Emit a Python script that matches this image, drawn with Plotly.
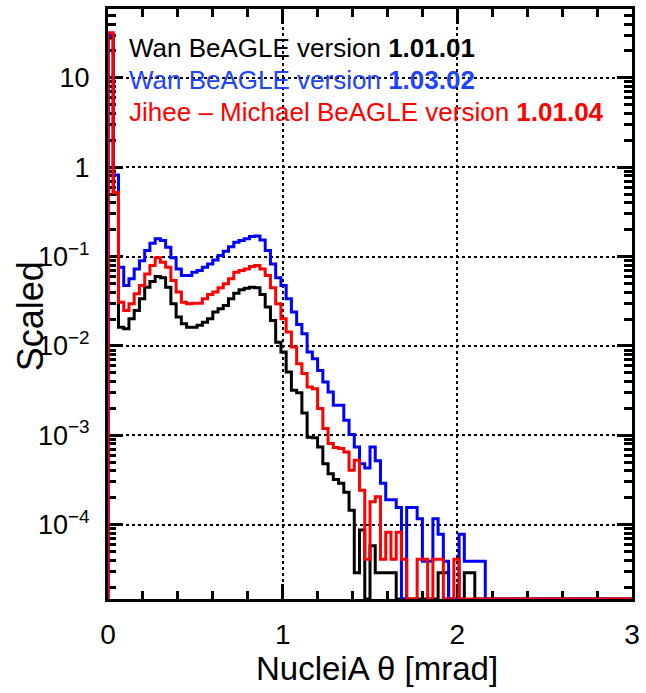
import plotly.graph_objects as go
import numpy as np

# ---- data: 100 bins of width 0.03 mrad from 0 to 3 ----
bin_width = 0.03
n_bins = 100

black_vals = [28, 0.5, 0.0162, 0.0156, 0.0201, 0.0249, 0.0337, 0.0454, 0.0526, 0.0598,
              0.0578, 0.0454, 0.0296, 0.021, 0.0177, 0.0162, 0.0162, 0.017, 0.0184, 0.0201,
              0.0239, 0.026, 0.0283, 0.0337, 0.0389, 0.0425, 0.0443, 0.0454, 0.0447, 0.0376,
              0.0272, 0.0193, 0.0110, 0.00853, 0.0051, 0.00318, 0.0030, 0.00178, 0.00095, 0.00094,
              0.00074, 0.00048, 0.00037, 0.00032, 0.00029, 0.00023, 0.000145, 2.9e-5, 8.7e-5, 0,
              5.8e-5, 2.9e-5, 2.9e-5, 2.9e-5, 2.9e-5, 0, 0, 0, 0, 0,
              0, 0, 0, 2.9e-5, 2.9e-5, 0, 0, 0, 2.9e-5, 2.9e-5] + [0] * 30

blue_vals = [30, 0.82, 0.076, 0.0474, 0.0563, 0.0728, 0.090, 0.1167, 0.141, 0.158,
             0.151, 0.127, 0.0968, 0.0728, 0.0614, 0.0614, 0.0668, 0.070, 0.076, 0.0828,
             0.0918, 0.1026, 0.115, 0.129, 0.1445, 0.151, 0.158, 0.168, 0.170, 0.1535,
             0.1167, 0.0828, 0.0578, 0.0474, 0.0337, 0.0239, 0.0174, 0.0137, 0.00853, 0.00719,
             0.00532, 0.00394, 0.00305, 0.00216, 0.00216, 0.00147, 0.00102, 0.00074, 0.00048, 0.00043,
             0.00074, 0.00052, 0.00029, 0.00019, 0.00019, 0.000155, 0, 0.000155, 0.000155, 0.000116,
             3.9e-5, 3.9e-5, 0.000116, 7.8e-5, 3.9e-5, 0, 0, 7.8e-5, 3.9e-5, 3.9e-5,
             3.9e-5, 3.9e-5] + [0] * 28

red_vals = [32, 0.52, 0.0309, 0.0249, 0.0296, 0.0383, 0.0474, 0.064, 0.0794, 0.0968,
            0.0866, 0.076, 0.054, 0.040, 0.0309, 0.0296, 0.0301, 0.0301, 0.0337, 0.0376,
            0.040, 0.0447, 0.0495, 0.0563, 0.0668, 0.070, 0.0728, 0.0774, 0.0794, 0.0728,
            0.0614, 0.0447, 0.0296, 0.0201, 0.0143, 0.0097, 0.0063, 0.0049, 0.00347, 0.00332,
            0.00199, 0.00119, 0.00081, 0.00073, 0.00071, 0.00065, 0.000406, 0.000526, 0.000243, 4.1e-5,
            0.00018, 0.000205, 4.1e-5, 8.2e-5, 4.1e-5, 8.2e-5, 4.1e-5, 0, 0, 4.1e-5,
            4.1e-5, 0, 4.1e-5, 4.1e-5, 0, 0, 4.1e-5] + [0] * 33

series_names = ["Wan BeAGLE version 1.01.01",
                "Wan BeAGLE version 1.03.02",
                "Jihee – Michael BeAGLE version 1.01.04"]
legend_plain = ["Wan BeAGLE version ", "Wan BeAGLE version ", "Jihee – Michael BeAGLE version "]
legend_bold = ["1.01.01", "1.03.02", "1.01.04"]

x_range = [0, 3]
y_log_range = [np.log10(1.47e-5), np.log10(59)]
y_tick_vals = [1e-4, 1e-3, 1e-2, 1e-1, 1, 10]
y_tick_text = ["10<sup>−4</sup>", "10<sup>−3</sup>", "10<sup>−2</sup>", "10<sup>−1</sup>", "1", "10"]
x_title = "NucleiA θ [mrad]"
y_title = "Scaled"

line_colors = ["#000000", "#0000ff", "#ff0000"]
text_colors = ["#000000", "#1f45fc", "#ff0000"]
FONT = "Liberation Sans, Arial, Helvetica, sans-serif"

floor = 10 ** y_log_range[0]
edges = np.arange(n_bins + 1) * bin_width


def step_xy(vals):
    v = [max(val, floor) for val in vals]
    xs = [0.0] + list(edges[:-1]) + [edges[-1], edges[-1]]
    ys = [floor] + v + [v[-1], floor]
    return xs, ys


fig = go.Figure()
for vals, col, name in zip([black_vals, blue_vals, red_vals], line_colors, series_names):
    xs, ys = step_xy(vals)
    fig.add_trace(go.Scatter(x=xs, y=ys, mode="lines", line=dict(color=col, width=3, shape="hv"),
                             name=name, showlegend=False, hoverinfo="skip"))

annotations = []
for i, (p, b, c) in enumerate(zip(legend_plain, legend_bold, text_colors)):
    annotations.append(dict(xref="paper", yref="paper", x=0.036, y=0.934 - i * 0.0545,
                            xanchor="left", yanchor="middle", showarrow=False,
                            text=f"{p}<b>{b}</b>", font=dict(family=FONT, size=26, color=c)))
annotations.append(dict(xref="paper", yref="paper", x=-0.148, y=0.48, showarrow=False,
                        text=y_title, textangle=-90, xanchor="center", yanchor="middle",
                        font=dict(family=FONT, size=36, color="black")))
annotations.append(dict(xref="paper", yref="paper", x=0.513, y=-0.118, showarrow=False,
                        text=x_title, xanchor="center", yanchor="middle",
                        font=dict(family=FONT, size=33, color="black")))

fig.update_layout(
    width=646, height=693,
    margin=dict(l=108, r=6, t=8, b=94),
    paper_bgcolor="white", plot_bgcolor="white",
    showlegend=False,
    annotations=annotations,
    font=dict(family=FONT, size=26, color="black"),
)
fig.update_xaxes(
    range=x_range, tickvals=[0, 1, 2, 3], ticktext=["0", "1", "2", "3"],
    showline=True, linecolor="black", linewidth=3, mirror="ticks",
    ticks="inside", ticklen=15, tickwidth=2.5, tickcolor="black",
    showgrid=True, gridcolor="black", griddash="dot", gridwidth=1.5,
    zeroline=False, layer="below traces", ticklabelstandoff=8,
    tickfont=dict(family=FONT, size=28, color="black"),
    minor=dict(dtick=0.2, tick0=0, ticks="inside", ticklen=8, tickwidth=2.5, tickcolor="black", showgrid=False),
)
fig.update_yaxes(
    type="log", range=y_log_range, tickvals=y_tick_vals, ticktext=y_tick_text,
    showline=True, linecolor="black", linewidth=3, mirror="ticks",
    ticks="inside", ticklen=15, tickwidth=2.5, tickcolor="black",
    showgrid=True, gridcolor="black", griddash="dot", gridwidth=1.5,
    zeroline=False, layer="below traces", ticklabelstandoff=10,
    tickfont=dict(family=FONT, size=27, color="black"),
    minor=dict(dtick="D1", ticks="inside", ticklen=8, tickwidth=2.5, tickcolor="black", showgrid=False),
)

fig.write_html("out.html")
